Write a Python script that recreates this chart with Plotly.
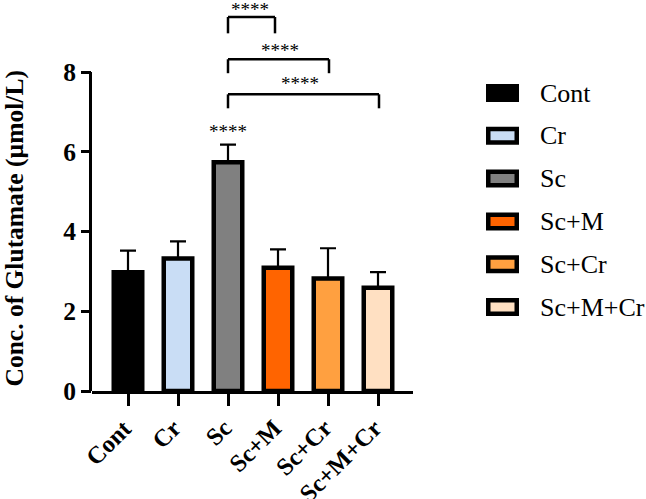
import plotly.graph_objects as go

# ---- data ----
categories = ["Cont", "Cr", "Sc", "Sc+M", "Sc+Cr", "Sc+M+Cr"]
means = [2.98, 3.32, 5.74, 3.09, 2.82, 2.59]
errors_up = [0.54, 0.43, 0.44, 0.46, 0.76, 0.39]
colors = ["#000000", "#c9ddf5", "#808080", "#ff6400", "#ffa040", "#ffe0c2"]
y_ticks = [0, 2, 4, 6, 8]
y_title = "Conc. of Glutamate (µmol/L)"

# significance brackets (from index, to index, bottom, top, label x, label y)
br_from = [2.0, 2.0, 2.0]
br_to = [2.94, 4.02, 5.02]
br_bottom = [8.97, 7.97, 7.09]
br_top = [9.38, 8.32, 7.44]
br_label_x = [2.44, 3.04, 3.44]
br_label_y = [9.58, 8.54, 7.71]
br_label = ["****", "****", "****"]
single_star_x = 2.0
single_star_y = 6.51
single_star_label = "****"

W, H = 646, 499
ML, MR, MT, MB = 92, 233, 0, 108
Y_MAX = 9.806

FONT = "Liberation Serif"

fig = go.Figure()
fig.add_trace(go.Bar(
    x=categories, y=means, width=0.57,
    marker=dict(color=colors, line=dict(color="black", width=4.5)),
    error_y=dict(type="data", symmetric=False, array=errors_up,
                 arrayminus=[0] * len(means), color="black", thickness=2.2, width=8),
    showlegend=False,
))

pw = W - ML - MR
ph = H - MT - MB
def xp(px):
    return (px - ML) / pw
def yp(py):
    return (H - MB - py) / ph

shapes = []
# y-axis line only up to the top tick
shapes.append(dict(type="line", xref="paper", yref="y", x0=xp(90.5), x1=xp(90.5), y0=0,
                   y1=max(y_ticks), line=dict(color="black", width=3)))
annotations = []
for x0, x1, yb, yt in zip(br_from, br_to, br_bottom, br_top):
    ln = dict(color="black", width=2.5)
    shapes.append(dict(type="line", xref="x", yref="y", x0=x0, x1=x0, y0=yb, y1=yt, line=ln))
    shapes.append(dict(type="line", xref="x", yref="y", x0=x0, x1=x1, y0=yt, y1=yt, line=ln))
    shapes.append(dict(type="line", xref="x", yref="y", x0=x1, x1=x1, y0=yb, y1=yt, line=ln))
for lx, ly, lt in zip(br_label_x, br_label_y, br_label):
    annotations.append(dict(x=lx, y=ly, xref="x", yref="y", text=lt, showarrow=False,
                            xanchor="center", yanchor="middle",
                            font=dict(family=FONT, size=19, color="black")))
annotations.append(dict(x=single_star_x, y=single_star_y, xref="x", yref="y",
                        text=single_star_label, showarrow=False, xanchor="center",
                        yanchor="middle", font=dict(family=FONT, size=19, color="black")))

# rotated category labels (as annotations for precise placement)
for cat in categories:
    annotations.append(dict(x=cat, y=yp(411), xref="x", yref="paper", text=cat,
                            textangle=-45, showarrow=False, xanchor="right",
                            yanchor="top", xshift=11.5,
                            font=dict(family=FONT, size=24.5, color="black", weight="bold")))

# y-axis title
annotations.append(dict(x=xp(14), y=yp(228.5), xref="paper", yref="paper", text=y_title,
                        textangle=-90, showarrow=False, xanchor="center", yanchor="middle",
                        font=dict(family=FONT, size=25.5, color="black", weight="bold")))

# custom legend
row0, row_step = 93, 42.8
for i, (cat, col) in enumerate(zip(categories, colors)):
    cy = row0 + i * row_step
    shapes.append(dict(type="rect", xref="paper", yref="paper",
                       x0=xp(488.25), x1=xp(516.75), y0=yp(cy + 6.75), y1=yp(cy - 6.75),
                       fillcolor=col, line=dict(color="black", width=4.5)))
    annotations.append(dict(x=xp(538), y=yp(cy), xref="paper", yref="paper", text=cat,
                            showarrow=False, xanchor="left", yanchor="middle",
                            font=dict(family=FONT, size=26, color="black")))

fig.update_layout(
    width=W, height=H,
    margin=dict(l=ML, r=MR, t=MT, b=MB, pad=0, autoexpand=False),
    plot_bgcolor="white", paper_bgcolor="white",
    shapes=shapes, annotations=annotations,
    xaxis=dict(type="category", range=[-0.72, 5.7], showline=True, linecolor="black",
               linewidth=3, ticks="outside", ticklen=12, tickwidth=3, tickcolor="black",
               showticklabels=False, showgrid=False, zeroline=False, automargin=False),
    yaxis=dict(range=[0, Y_MAX], showline=False, showgrid=False, zeroline=False,
               tickvals=y_ticks, ticks="outside", ticklen=10, tickwidth=3,
               tickcolor="black", automargin=False,
               tickfont=dict(family=FONT, size=25.5, color="black", weight="bold")),
)

fig.write_html("out.html")
